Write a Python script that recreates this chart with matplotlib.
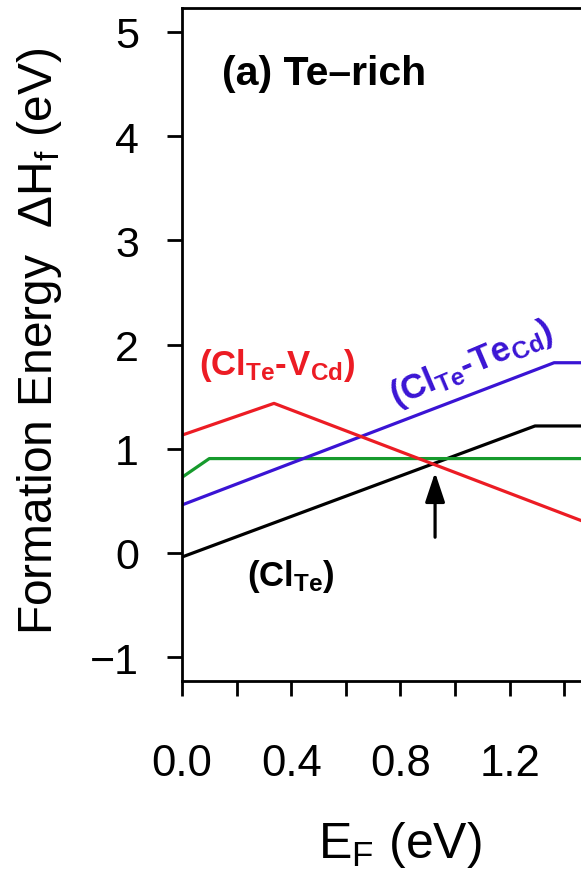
import matplotlib
matplotlib.use("Agg")
import matplotlib.pyplot as plt

# =========================
# DATOS
# =========================
ef_clte = [0.0, 1.293, 1.5]
dh_clte = [-0.04, 1.218, 1.218]

ef_clte_vcd = [0.0, 0.337, 1.5]
dh_clte_vcd = [1.13, 1.435, 0.272]

ef_clte_tecd = [0.0, 1.363, 1.5]
dh_clte_tecd = [0.46, 1.825, 1.825]

ef_green = [0.0, 0.10, 1.5]
dh_green = [0.725, 0.905, 0.905]

x_major = [0.0, 0.4, 0.8, 1.2]
x_minor = [0.2, 0.6, 1.0, 1.4]
x_labels = ["0.0", "0.4", "0.8", "1.2"]
y_ticks = [-1, 0, 1, 2, 3, 4, 5]
y_labels = ["\u22121", "0", "1", "2", "3", "4", "5"]

arrow_x = 0.927
arrow_y = [0.15, 0.772]

# =========================
# ESTILO
# =========================
plt.rcParams["font.family"] = ["Liberation Sans", "DejaVu Sans"]
plt.rcParams["mathtext.fontset"] = "custom"
plt.rcParams["mathtext.rm"] = "Liberation Sans"
plt.rcParams["mathtext.it"] = "Liberation Sans"
plt.rcParams["mathtext.bf"] = "Liberation Sans:bold"

RED = "#ec1c24"
BLUE = "#3a14d4"
GREEN = "#169a2c"
HY = "\u2010"


def defect_label(host, partner=None):
    s = r"$\mathbf{(Cl}_{\mathbf{Te}}"
    if partner is not None:
        s += r"\mathbf{" + HY + partner[0] + r"}_{\mathbf{" + partner[1] + r"}}"
    return s + r"\mathbf{)}$"


W, H = 581, 870
fig = plt.figure(figsize=(W / 100, H / 100), dpi=100)
ax = fig.add_axes([182 / W, 188 / H, 409.5 / W, 673 / H])

ax.plot(ef_clte, dh_clte, color="black", lw=2.3)
ax.plot(ef_green, dh_green, color=GREEN, lw=2.3)
ax.plot(ef_clte_tecd, dh_clte_tecd, color=BLUE, lw=2.3)
ax.plot(ef_clte_vcd, dh_clte_vcd, color=RED, lw=2.3)

ax.annotate("", xy=(arrow_x, arrow_y[1]), xytext=(arrow_x, arrow_y[0]),
            arrowprops=dict(arrowstyle="-|>,head_length=0.75,head_width=0.25",
                            mutation_scale=24, lw=2.3, color="black",
                            shrinkA=0, shrinkB=0))

ax.set_xlim(0, 1.5)
ax.set_ylim(-1.23, 5.23)

ax.set_xticks(x_major)
ax.set_xticklabels(x_labels)
ax.set_xticks(x_minor, minor=True)
ax.set_yticks(y_ticks)
ax.set_yticklabels(y_labels)

ax.tick_params(axis="both", which="both", direction="out", length=11, width=2)
ax.tick_params(axis="x", which="major", labelsize=31.5, pad=34)
ax.tick_params(axis="y", which="major", labelsize=31, pad=20)
for s in ax.spines.values():
    s.set_linewidth(2)

# textos dentro del panel
ax.text(0.147, 4.61, "(a) Te\u2013rich", fontsize=29.5, fontweight="bold",
        ha="left", va="center")
ax.text(0.35, 1.81, defect_label("Cl", ("V", "Cd")),
        color=RED, fontsize=25, ha="center", va="center")
ax.text(1.062, 1.82, defect_label("Cl", ("Te", "Cd")),
        color=BLUE, fontsize=25, ha="center", va="center", rotation=23,
        rotation_mode="anchor")
ax.text(0.40, -0.22, defect_label("Cl"),
        color="black", fontsize=25, ha="center", va="center")

# etiquetas de los ejes
fig.text(400 / W, 1 - 845 / H, r"E$_\mathregular{F}$ (eV)", fontsize=36,
         ha="center", va="center")
fig.text(40 / W, 1 - 341 / H, r"Formation Energy  $\mathregular{\Delta H_f}$ (eV)",
         fontsize=34.5, rotation=90, ha="center", va="center",
         family=["Liberation Sans Narrow", "Liberation Sans", "DejaVu Sans"])

fig.savefig("out.png", dpi=100)
